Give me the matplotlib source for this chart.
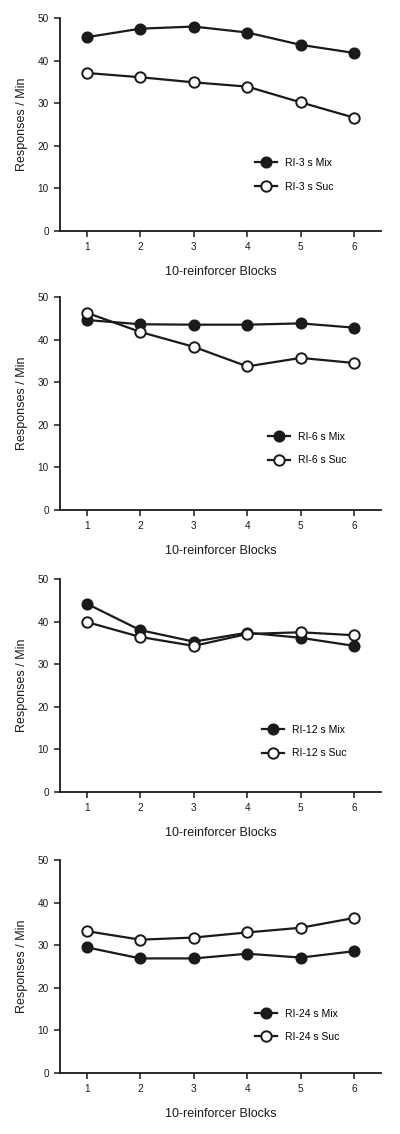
import matplotlib
matplotlib.use("Agg")
import matplotlib.pyplot as plt

plt.rcParams['font.family'] = ['Liberation Sans', 'DejaVu Sans']

blocks = [1, 2, 3, 4, 5, 6]

# RI-3 s
mix_3 = [45.5, 47.5, 48.0, 46.6, 43.7, 41.8]
suc_3 = [37.1, 36.1, 34.9, 33.9, 30.2, 26.6]
# RI-6 s
mix_6 = [44.6, 43.6, 43.5, 43.5, 43.8, 42.8]
suc_6 = [46.3, 41.8, 38.3, 33.7, 35.7, 34.5]
# RI-12 s
mix_12 = [44.2, 38.0, 35.3, 37.4, 36.2, 34.3]
suc_12 = [39.9, 36.4, 34.3, 37.1, 37.5, 36.8]
# RI-24 s
mix_24 = [29.5, 26.9, 26.9, 28.0, 27.1, 28.6]
suc_24 = [33.3, 31.3, 31.8, 33.0, 34.1, 36.4]

panels = [
    ("RI-3 s", mix_3, suc_3),
    ("RI-6 s", mix_6, suc_6),
    ("RI-12 s", mix_12, suc_12),
    ("RI-24 s", mix_24, suc_24),
]

# axes bottoms (figure fraction) and legend anchors
bottoms = [0.7963, 0.5503, 0.3016, 0.0538]
leg_anchor = [(0.607, 0.264), (0.648, 0.288), (0.629, 0.236), (0.607, 0.224)]

fig = plt.figure(figsize=(4, 11.34), dpi=100)

for (name, mix, suc), b, anc in zip(panels, bottoms, leg_anchor):
    ax = fig.add_axes([0.15, b, 0.8025, 0.1878])
    ax.plot(blocks, mix, color='#1a1a1a', lw=1.6, marker='o', ms=7.5,
            mfc='#1a1a1a', mec='#1a1a1a', mew=1.2, label=name + " Mix", clip_on=False)
    ax.plot(blocks, suc, color='#1a1a1a', lw=1.6, marker='o', ms=7.5,
            mfc='white', mec='#1a1a1a', mew=1.4, label=name + " Suc", clip_on=False)
    ax.set_xlim(0.5, 6.5)
    ax.set_ylim(0, 50)
    ax.set_xticks(blocks)
    ax.set_yticks([0, 10, 20, 30, 40, 50])
    for s in ['top', 'right']:
        ax.spines[s].set_visible(False)
    for s in ['left', 'bottom']:
        ax.spines[s].set_linewidth(1.3)
        ax.spines[s].set_color('#1a1a1a')
    ax.tick_params(direction='out', length=4, width=1.1, labelsize=7.2,
                   colors='#1a1a1a', pad=4)
    ax.set_xlabel("10-reinforcer Blocks", fontsize=9, color='#1a1a1a', labelpad=10)
    ax.set_ylabel("Responses / Min", fontsize=9, color='#1a1a1a', labelpad=7)
    ax.legend(loc='center left', bbox_to_anchor=anc, frameon=False,
              fontsize=7.5, handlelength=2.1, handletextpad=0.75,
              labelspacing=1.3, borderpad=0, borderaxespad=0)

fig.savefig("out.png", dpi=100)
